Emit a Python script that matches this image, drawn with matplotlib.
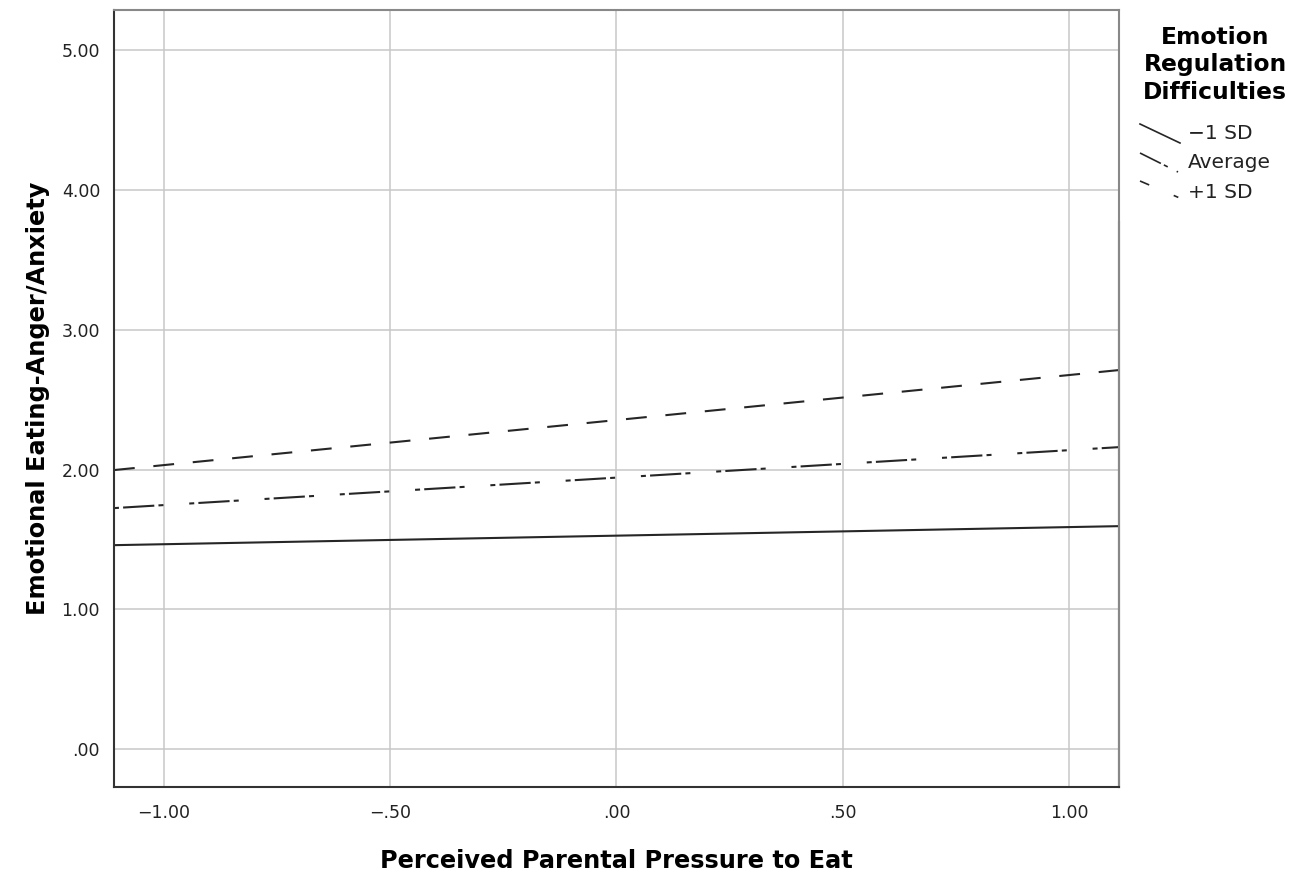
import matplotlib
matplotlib.use("Agg")
import matplotlib.pyplot as plt
from matplotlib.lines import Line2D

# predicted values at the ends of the x range
x_ends = [-1.11, 1.11]
low_sd = [1.459, 1.595]
average = [1.724, 2.160]
high_sd = [1.996, 2.711]

series_labels = ["\u22121 SD", "Average", "+1 SD"]
x_ticks = [-1.0, -0.5, 0.0, 0.5, 1.0]
x_tick_labels = ["\u22121.00", "\u2212.50", ".00", ".50", "1.00"]
y_ticks = [0, 1, 2, 3, 4, 5]
y_tick_labels = [".00", "1.00", "2.00", "3.00", "4.00", "5.00"]

plt.rcParams["font.family"] = ["DejaVu Sans"]

fig = plt.figure(figsize=(12.95, 8.72), dpi=100)
ax = fig.add_axes([0.088, 0.0975, 0.7761, 0.8911])

styles = [
    "-",
    (0, (2.4, 2, 15, 2, 2.4, 12.4)),
    (0, (10, 9)),
]
series = [low_sd, average, high_sd]

for values, ls in zip(series, styles):
    ax.plot(x_ends, values, color="#262626", linewidth=1.5, linestyle=ls)

ax.set_xlim(-1.11, 1.11)
ax.set_ylim(-0.27, 5.286)

ax.set_xticks(x_ticks)
ax.set_xticklabels(x_tick_labels)
ax.set_yticks(y_ticks)
ax.set_yticklabels(y_tick_labels)
ax.tick_params(length=0, labelsize=12.5, colors="#222222")
ax.tick_params(axis="x", pad=12)
ax.tick_params(axis="y", pad=10)

ax.grid(color="#c8c8c8", linewidth=1.1)
ax.set_axisbelow(True)

for side in ["left", "bottom"]:
    ax.spines[side].set_color("#333333")
    ax.spines[side].set_linewidth(1.5)
for side in ["top", "right"]:
    ax.spines[side].set_color("#888888")
    ax.spines[side].set_linewidth(1.5)

# darker lower part of the right frame
ax.axvline(1.11, ymin=0, ymax=0.727, color="#333333", linewidth=1.5,
           clip_on=False)

ax.set_xlabel("Perceived Parental Pressure to Eat", fontsize=17.3,
              fontweight="bold", labelpad=20)
ax.set_ylabel("Emotional Eating-Anger/Anxiety", fontsize=17.3,
              fontweight="bold", labelpad=8)

# legend drawn by hand
W, H = 1295, 872
fig.text(1215 / W, 1 - 65 / H, "Emotion\nRegulation\nDifficulties",
         ha="center", va="center", fontsize=16.8, fontweight="bold",
         linespacing=1.25)

handles = [
    ((1140, 124), (1180, 143)),
    ((1140, 153), (1178, 172)),
    ((1140, 181), (1182, 199)),
]
label_y = [133, 162, 192]
handle_styles = ["-", (0, (14, 2, 2.6, 6)), (0, (6, 16, 3, 20))]

for (p0, p1), ls, label, ly in zip(handles, handle_styles, series_labels, label_y):
    fig.add_artist(Line2D([p0[0] / W, p1[0] / W], [1 - p0[1] / H, 1 - p1[1] / H],
                          transform=fig.transFigure, color="#262626",
                          linewidth=1.2, linestyle=ls))
    fig.text(1188 / W, 1 - ly / H, label, ha="left", va="center",
             fontsize=14.5, color="#222222")

fig.savefig("out.png", dpi=100)
plt.close(fig)
